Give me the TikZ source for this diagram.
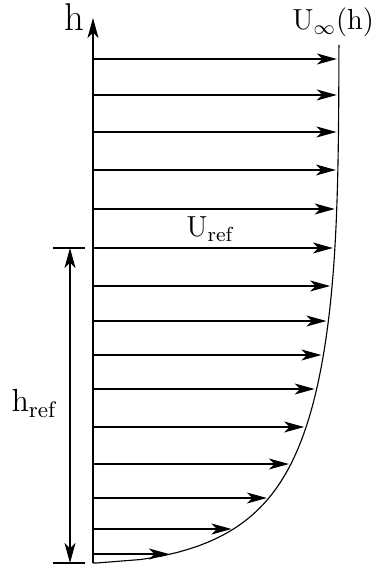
\documentclass[tikz,border=0pt]{standalone}
\usepackage{amsmath}
\usepackage{fontspec}
\usetikzlibrary{arrows.meta}

\begin{document}
\begin{tikzpicture}[x=0.4pt,y=0.4pt,>={Stealth[length=8pt,width=4.4pt,inset=2.2pt]},line width=0.45pt,
    lab/.style={font=\fontsize{11.6}{14}\selectfont,anchor=base,inner sep=0pt},
    declare function={prof(\t)=93+246*(1-exp(-(\t/45)^0.6-(\t/330)^3));}]
  \useasboundingbox (0,0) rectangle (375,565);

  % height axis
  \coordinate (o) at (93,2);
  \coordinate (top) at (93,547);
  \draw[->] (o) -- (top);
  \node[lab,font=\fontsize{15.5}{18}\selectfont] (hlab) at (74,534) {h};

  % velocity vectors
  \foreach \y [count=\i] in {11,36,67,101,138,176,210,244,279,317,356,395,433,470,506}{
    \coordinate (a\i) at (93,\y);
    \coordinate (b\i) at ({prof(\y-2)-2},\y);
    \draw[->] (a\i) -- (b\i);
  }

  % profile
  \draw (o) -- plot[domain=0.05:518,samples=150,variable=\t] ({prof(\t)},{2+\t});
  \node[lab,anchor=base east] (uinf) at (374.5,535) {U$_\infty$(h)};
  \node[lab] (uref) at (210,328) {U$_{\mathrm{ref}}$};

  % reference height
  \coordinate (r1) at (53,317);
  \coordinate (r2) at (85,317);
  \coordinate (s1) at (53,2);
  \coordinate (s2) at (85,2);
  \coordinate (d1) at (70,317);
  \coordinate (d2) at (70,2);
  \draw (r1) -- (r2);
  \draw (s1) -- (s2);
  \draw[<->] (d1) -- (d2);
  \node[lab,font=\fontsize{12.8}{15}\selectfont] (href) at (34,153) {h$_{\mathrm{ref}}$};
\end{tikzpicture}
\end{document}
